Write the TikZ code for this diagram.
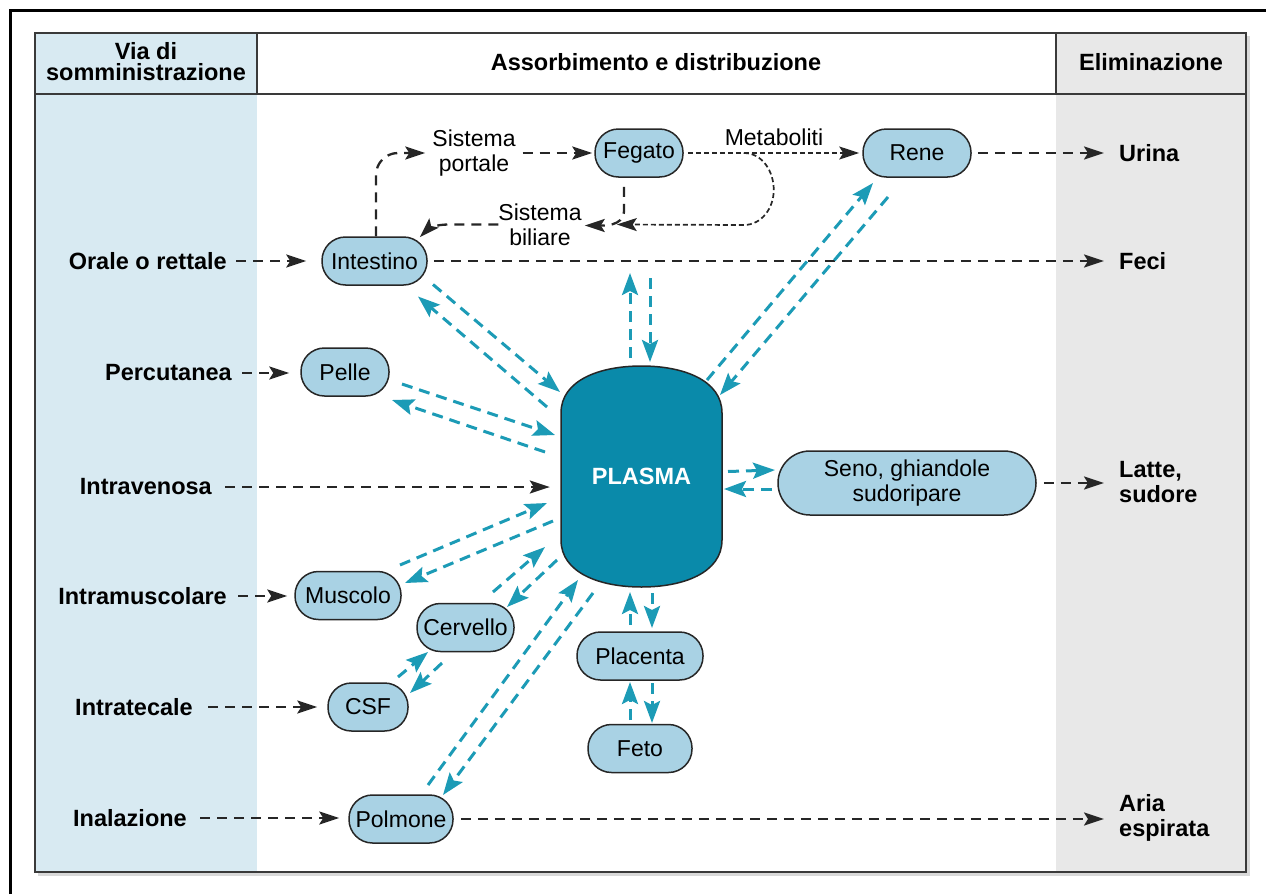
\documentclass[tikz,border=0pt]{standalone}
\usepackage{fontspec}
\setmainfont{Liberation Sans}
\usetikzlibrary{arrows.meta,calc}
\definecolor{organfill}{HTML}{A9D2E4}
\definecolor{plasmafill}{HTML}{0A8AAA}
\definecolor{flow}{HTML}{1C9BB6}
\definecolor{routecol}{HTML}{D8EAF2}
\definecolor{elimcol}{HTML}{E8E8E8}
\definecolor{rulecol}{HTML}{3A3A3A}

\begin{document}
\begin{tikzpicture}[x=1pt,y=-1pt,
  txt/.style={font=\fontsize{23}{25}\selectfont, inner sep=0pt, align=center},
  bold/.style={font=\fontsize{23.5}{25}\selectfont\bfseries, inner sep=0pt},
  route/.style={bold, anchor=east},
  sink/.style={bold, anchor=west, align=left},
  organ/.style={txt, draw=black!85, line width=1.5pt, fill=organfill, minimum height=48pt, rounded corners=23.5pt},
  blk/.style={draw=black!85, line width=2.3pt, dash pattern=on 10pt off 7pt, -{Stealth[length=20pt,width=13pt,inset=4pt]}},
  fine/.style={blk, line width=1.7pt, dash pattern=on 5pt off 3pt},
  tl/.style={draw=flow, line width=3pt, dash pattern=on 11pt off 7pt, -{Stealth[length=22pt,width=16pt,inset=4pt]}},
]
\useasboundingbox (0,0) rectangle (1266,894);

% outer frame
\draw[black, line width=2.2pt] (10.5,894) -- (10.5,10.5) -- (1266,10.5);

% table columns
\draw[black!15, line width=2.5pt] (38,874.5) -- (1248.5,874.5) -- (1248.5,36);
\fill[routecol] (35,33) rectangle (257,872);
\fill[elimcol] (1056,33) rectangle (1246,872);
\draw[rulecol, line width=1.6pt] (35,33) rectangle (1246,872);
\draw[rulecol, line width=1.6pt] (35,94) -- (1246,94) (257,33) -- (257,94) (1056,33) -- (1056,94);

% headers
\node[bold, align=center, font=\fontsize{23.5}{21}\selectfont\bfseries] (h1) at (146,62) {Via di\\somministrazione};
\node[bold] (h2) at (656,62) {Assorbimento e distribuzione};
\node[bold] (h3) at (1151,62) {Eliminazione};

% plasma compartment
\fill[plasmafill, draw=black!85, line width=1.5pt]
  (561,413) .. controls (561,380) and (600,366) .. (641.5,366)
  .. controls (683,366) and (722,380) .. (722,413) -- (722,540)
  .. controls (722,573) and (683,587) .. (641.5,587)
  .. controls (600,587) and (561,573) .. (561,540) -- cycle;
\node[bold, text=white, minimum width=161pt, minimum height=221pt] (plasma) at (641.5,476.5) {PLASMA};

% organs
\node[organ, minimum width=105pt] (intestino) at (374.5,261) {Intestino};
\node[organ, minimum width=88pt] (fegato) at (639,153) {Fegato};
\node[organ, minimum width=108pt] (rene) at (917,153) {Rene};
\node[organ, minimum width=88pt] (pelle) at (345,372) {Pelle};
\node[organ, minimum width=258pt, minimum height=64pt, rounded corners=32pt] (seno) at (907,483) {Seno, ghiandole\\sudoripare};
\node[organ, minimum width=106pt] (muscolo) at (348,595.5) {Muscolo};
\node[organ, minimum width=97pt] (cervello) at (465.5,627.5) {Cervello};
\node[organ, minimum width=80pt] (csf) at (368,707) {CSF};
\node[organ, minimum width=104pt] (polmone) at (401,819) {Polmone};
\node[organ, minimum width=126pt] (placenta) at (640,656) {Placenta};
\node[organ, minimum width=104pt] (feto) at (640,748.5) {Feto};

% free labels
\node[txt] (portale) at (474,153) {Sistema\\portale};
\node[txt] (biliare) at (540,224.5) {Sistema\\biliare};
\node[txt] (metab) at (774,137) {Metaboliti};

% routes of administration
\node[route] (orale) at (227,261) {Orale o rettale};
\node[route] (percutanea) at (232,373) {Percutanea};
\node[route] (intravenosa) at (212,487) {Intravenosa};
\node[route] (intramuscolare) at (227,596) {Intramuscolare};
\node[route] (intratecale) at (193,707) {Intratecale};
\node[route] (inalazione) at (187,818) {Inalazione};

% elimination
\node[sink] (urina) at (1119,153) {Urina};
\node[sink] (feci) at (1119,261) {Feci};
\node[sink] (latte) at (1119,482) {Latte,\\sudore};
\node[sink] (aria) at (1119,818) {Aria\\espirata};

% administration arrows
\draw[blk, shorten <=9pt, shorten >=15pt] (orale.east) -- (orale.east -| intestino.west);
\draw[blk, shorten <=10pt, shorten >=11pt] (percutanea.east) -- (percutanea.east -| pelle.west);
\draw[blk, shorten <=13pt, shorten >=11pt] (intravenosa.east) -- (intravenosa.east -| plasma.west);
\draw[blk, shorten <=11pt, shorten >=7pt] (intramuscolare.east) -- (intramuscolare.east -| muscolo.west);
\draw[blk, shorten <=15pt, shorten >=10pt] (intratecale.east) -- (intratecale.east -| csf.west);
\draw[blk, shorten <=13pt, shorten >=9pt] (inalazione.east) -- (inalazione.east -| polmone.west);

% elimination arrows
\draw[blk, shorten <=6pt, shorten >=15pt] (intestino.east) -- (intestino.east -| feci.west);
\draw[blk, shorten <=6pt, shorten >=15pt] (rene.east) -- (rene.east -| urina.west);
\draw[blk, shorten <=7pt, shorten >=15pt] (seno.east) -- (seno.east -| latte.west);
\draw[blk, shorten <=7pt, shorten >=15pt] (polmone.east) -- (polmone.east -| aria.west);

% portal and biliary circuit
\draw[blk, rounded corners=22pt, shorten >=7pt] ([xshift=1.5pt]intestino.north) |- (portale.west);
\draw[blk, shorten <=7pt, shorten >=2pt] (portale.east) -- (fegato.west);
\draw[fine, shorten <=4pt, shorten >=3pt] (fegato.east) -- (rene.west);
\draw[fine] ([xshift=60pt]fegato.east) to[out=0,in=90] ([shift={(90,37)}]fegato.east)
  to[out=-90,in=0] ([shift={(60,72)}]fegato.east) -- ([xshift=35pt]biliare.east);
\draw[blk] ([shift={(-15,9)}]fegato.south) -- ([shift={(-15,33)}]fegato.south)
  to[out=-90,in=0] ([shift={(3,1)}]biliare.east);
\draw[blk] (biliare.west) -- ++(-50,0) to[out=180,in=45] ([shift={(-8,1)}]intestino.north east);

% exchanges with plasma
\draw[tl] ([shift={(58.5,23.5)}]intestino.center) -- ([shift={(-81.5,-84.5)}]plasma.center);
\draw[tl] ([shift={(-94.5,-69.5)}]plasma.center) -- ([shift={(43.5,35.5)}]intestino.center);
\draw[tl] ([shift={(57,12)}]pelle.center) -- ([shift={(-86.5,-41.5)}]plasma.center);
\draw[tl] ([shift={(-96.5,-24.5)}]plasma.center) -- ([shift={(47,28)}]pelle.center);
\draw[tl] ([shift={(-11.5,-118.5)}]plasma.center) -- ([shift={(-11.5,-203.5)}]plasma.center);
\draw[tl] ([shift={(8.5,-198.5)}]plasma.center) -- ([shift={(8.5,-114.5)}]plasma.center);
\draw[tl] ([shift={(65.5,-96.5)}]plasma.center) -- ([shift={(-44,30)}]rene.center);
\draw[tl] ([shift={(-29,44)}]rene.center) -- ([shift={(78.5,-81.5)}]plasma.center);
\draw[tl] ([shift={(86.5,-5)}]plasma.center) -- ([shift={(-132,-13)}]seno.center);
\draw[tl] ([shift={(-135,6)}]seno.center) -- ([shift={(82.5,12.5)}]plasma.center);
\draw[tl] ([shift={(52,-30.5)}]muscolo.center) -- ([shift={(-94.5,26.5)}]plasma.center);
\draw[tl] ([shift={(-88.5,44.5)}]plasma.center) -- ([shift={(57,-12.5)}]muscolo.center);
\draw[tl] ([shift={(27.5,-35.5)}]cervello.center) -- ([shift={(-96.5,70.5)}]plasma.center);
\draw[tl] ([shift={(-84.5,83.5)}]plasma.center) -- ([shift={(41.5,-20.5)}]cervello.center);
\draw[tl] ([shift={(30,-30)}]csf.center) -- ([shift={(-37.5,24.5)}]cervello.center);
\draw[tl] ([shift={(-23.5,35.5)}]cervello.center) -- ([shift={(42,-14)}]csf.center);
\draw[tl] ([shift={(27,-34)}]polmone.center) -- ([shift={(-63.5,103.5)}]plasma.center);
\draw[tl] ([shift={(-48.5,116.5)}]plasma.center) -- ([shift={(42,-24)}]polmone.center);
\draw[tl] ([shift={(-10,-31)}]placenta.center) -- ([shift={(-11.5,115.5)}]plasma.center);
\draw[tl] ([shift={(10.5,116.5)}]plasma.center) -- ([shift={(12,-28)}]placenta.center);
\draw[tl] ([shift={(-10,-28.5)}]feto.center) -- ([shift={(-10,26)}]placenta.center);
\draw[tl] ([shift={(12,27)}]placenta.center) -- ([shift={(12,-25.5)}]feto.center);
\end{tikzpicture}
\end{document}
